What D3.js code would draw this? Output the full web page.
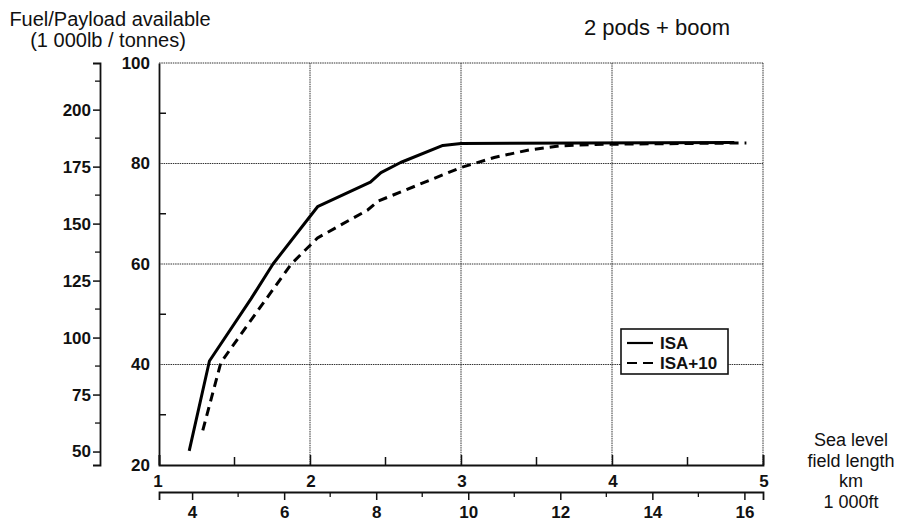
<!DOCTYPE html>
<html>
<head>
<meta charset="utf-8">
<script src="https://cdn.jsdelivr.net/npm/d3@7"></script>
<style>
  html, body { margin: 0; padding: 0; background: #fff; }
  svg text { font-family: "Liberation Sans", Arial, Helvetica, sans-serif; fill: #111; }
</style>
</head>
<body>
<svg id="chart" width="907" height="524"></svg>
<script>
// Field length (km) vs. fuel/payload available (tonnes)
const isaKm   = [1.20, 1.334, 1.61, 1.755, 2.05, 2.40, 2.47, 2.60, 2.88, 3.00, 4.81];
const isaT    = [22.8, 40.7, 53.1, 60.0, 71.4, 76.3, 78.2, 80.2, 83.6, 84.0, 84.2];
const isa10Km = [1.29, 1.41, 1.58, 1.876, 2.05, 2.38, 2.45, 3.00, 3.22, 3.45, 3.65, 3.89, 4.89];
const isa10T  = [26.9, 40.4, 47.6, 60.0, 65.2, 70.7, 72.5, 79.2, 81.2, 82.7, 83.5, 83.8, 84.1];

const tonneTicks = [20, 40, 60, 80, 100];
const tonneMinor = [30, 50, 70, 90];
const lbTicks    = [50, 75, 100, 125, 150, 175, 200];
const lbMinor    = [62.5, 87.5, 112.5, 137.5, 162.5, 187.5, 212.5];
const kmTicks    = [1, 2, 3, 4, 5];
const kmMinor    = [1.5, 2.5, 3.5, 4.5];
const ftTicks    = [4, 6, 8, 10, 12, 14, 16];
const ftMinor    = [5, 7, 9, 11, 13, 15];
const seriesNames = ["ISA", "ISA+10"];
const xTitleLines = ["Sea level", "field length", "km", "1 000ft"];

const LB_PER_TONNE = 2.20462;
const FT_PER_KM = 3.28084;

const svg = d3.select("#chart");
const L = 159, R = 763, T = 63, B = 465;

const x = d3.scaleLinear().domain([1, 5]).range([L, R]);
const y = d3.scaleLinear().domain([20, 100]).range([B, T]);
const yLb = d3.scaleLinear().domain([20 * LB_PER_TONNE, 100 * LB_PER_TONNE]).range([B, T]);
const xFt = d3.scaleLinear().domain([1 * FT_PER_KM, 5 * FT_PER_KM]).range([L, R]);

const gridStyle = g => g.attr("stroke", "#333").attr("stroke-width", 1).attr("stroke-dasharray", "1.5,0.8").attr("fill", "none");

// grid lines and the dotted top/right frame
const grid = svg.append("g");
grid.selectAll("line.h").data([40, 60, 80, 100]).join("line")
  .attr("x1", L).attr("x2", R).attr("y1", d => y(d)).attr("y2", d => y(d)).call(gridStyle);
grid.selectAll("line.v").data([2, 3, 4, 5]).join("line")
  .attr("x1", d => x(d)).attr("x2", d => x(d)).attr("y1", T).attr("y2", B).call(gridStyle);

// tonnes axis (inner left)
const tAxis = svg.append("g").attr("transform", `translate(${L},0)`)
  .call(d3.axisLeft(y).tickValues(tonneTicks).tickSize(0).tickPadding(9).tickFormat(d3.format("d")));
tAxis.select(".domain").attr("stroke", "#111").attr("stroke-width", 1.8);
tAxis.selectAll("text").attr("font-size", 17).attr("font-weight", "bold");
tAxis.selectAll("line.minor").data(tonneMinor).join("line").attr("class", "minor")
  .attr("x1", 0).attr("x2", 7).attr("y1", d => y(d)).attr("y2", d => y(d))
  .attr("stroke", "#111").attr("stroke-width", 1.5);

// 1 000 lb axis (outer left)
const lbAxis = svg.append("g").attr("transform", "translate(100,0)")
  .call(d3.axisLeft(yLb).tickValues(lbTicks).tickSize(7).tickPadding(2).tickFormat(d3.format("d")));
lbAxis.select(".domain").attr("stroke", "#111").attr("stroke-width", 1.8);
lbAxis.selectAll(".tick line").attr("stroke", "#111").attr("stroke-width", 1.5);
lbAxis.selectAll("text").attr("font-size", 17).attr("font-weight", "bold");
lbAxis.selectAll("line.minor").data(lbMinor).join("line").attr("class", "minor")
  .attr("x1", 0).attr("x2", -5).attr("y1", d => yLb(d)).attr("y2", d => yLb(d))
  .attr("stroke", "#111").attr("stroke-width", 1.3);

// km axis (plot bottom), ticks pointing into the plot
const kmAxis = svg.append("g").attr("transform", `translate(0,${B})`)
  .call(d3.axisTop(x).tickValues(kmTicks).tickSize(10).tickFormat(""));
kmAxis.select(".domain").attr("stroke", "#111").attr("stroke-width", 1.8);
kmAxis.selectAll(".tick line").attr("stroke", "#111").attr("stroke-width", 1.5);
kmAxis.selectAll("line.minor").data(kmMinor).join("line").attr("class", "minor")
  .attr("x1", d => x(d)).attr("x2", d => x(d)).attr("y1", 0).attr("y2", -8)
  .attr("stroke", "#111").attr("stroke-width", 1.5);
kmAxis.selectAll("text.lab").data(kmTicks).join("text").attr("class", "lab")
  .attr("x", d => x(d) + (d === 1 ? -1 : 1)).attr("y", 22)
  .attr("text-anchor", "middle").attr("font-size", 17).attr("font-weight", "bold")
  .text(d => d);

// 1 000 ft axis (below)
const ftAxis = svg.append("g").attr("transform", "translate(0,492)")
  .call(d3.axisBottom(xFt).tickValues(ftTicks).tickSize(8).tickPadding(6).tickFormat(d3.format("d")));
ftAxis.select(".domain").attr("stroke", "#111").attr("stroke-width", 1.8);
ftAxis.selectAll(".tick line").attr("stroke", "#111").attr("stroke-width", 1.5);
ftAxis.selectAll("text").attr("font-size", 17).attr("font-weight", "bold");
ftAxis.selectAll("line.minor").data(ftMinor).join("line").attr("class", "minor")
  .attr("x1", d => xFt(d)).attr("x2", d => xFt(d)).attr("y1", 0).attr("y2", 5)
  .attr("stroke", "#111").attr("stroke-width", 1.3);

// performance curves
const line = d3.line().x(d => x(d[0])).y(d => y(d[1]));
svg.append("path").datum(d3.zip(isaKm, isaT)).attr("d", line)
  .attr("fill", "none").attr("stroke", "#000").attr("stroke-width", 3).attr("stroke-linejoin", "round");
svg.append("path").datum(d3.zip(isa10Km, isa10T)).attr("d", line)
  .attr("fill", "none").attr("stroke", "#000").attr("stroke-width", 3)
  .attr("stroke-dasharray", "9,6");

// legend
const lg = svg.append("g").attr("transform", "translate(621,329)");
lg.append("rect").attr("width", 107).attr("height", 45)
  .attr("fill", "#fff").attr("stroke", "#111").attr("stroke-width", 1.6);
seriesNames.forEach((name, i) => {
  const yy = 14 + i * 20;
  lg.append("line").attr("x1", 6).attr("x2", 32).attr("y1", yy).attr("y2", yy)
    .attr("stroke", "#000").attr("stroke-width", 2.2)
    .attr("stroke-dasharray", i === 1 ? "10,6" : null);
  lg.append("text").attr("x", 39).attr("y", yy + 6).attr("font-size", 17).attr("font-weight", "bold").text(name);
});

// titles
svg.append("text").attr("x", 110).attr("y", 26).attr("text-anchor", "middle").attr("font-size", 20)
  .text("Fuel/Payload available");
svg.append("text").attr("x", 108).attr("y", 47).attr("text-anchor", "middle").attr("font-size", 20)
  .text("(1 000lb / tonnes)");
svg.append("text").attr("x", 657).attr("y", 35).attr("text-anchor", "middle").attr("font-size", 22)
  .text("2 pods + boom");
xTitleLines.forEach((t, i) => {
  svg.append("text").attr("x", 851).attr("y", 446 + i * 20.5).attr("text-anchor", "middle")
    .attr("font-size", 18).text(t);
});
</script>
</body>
</html>
